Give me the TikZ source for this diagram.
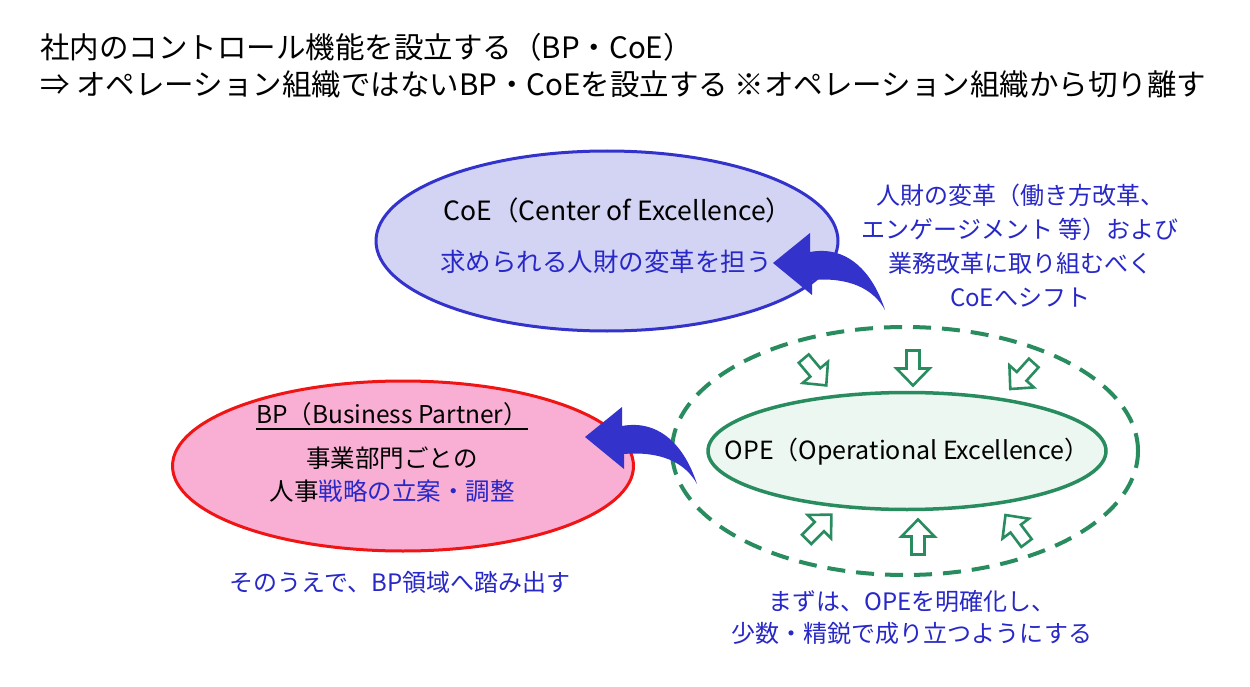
\documentclass[tikz,border=0pt]{standalone}
\usepackage{fontspec}
\setmainfont{Noto Sans CJK JP}
\usetikzlibrary{shapes.geometric}
\definecolor{coefill}{RGB}{211,211,243}
\definecolor{coeline}{RGB}{51,51,204}
\definecolor{bpfill}{RGB}{249,175,212}
\definecolor{bpline}{RGB}{240,20,20}
\definecolor{opegreen}{RGB}{40,140,95}
\definecolor{opefill}{RGB}{237,247,241}
\definecolor{txtblue}{RGB}{40,40,200}
\definecolor{arrowblue}{RGB}{51,51,204}
\begin{document}
\begin{tikzpicture}[x=1pt,y=-1pt,
  txt/.style={inner sep=0pt, font=\fontsize{24}{34}\selectfont, align=center},
  bigtxt/.style={txt, font=\fontsize{26.5}{34}\selectfont},
  bluetxt/.style={txt, text=txtblue},
  titletxt/.style={inner sep=0pt, anchor=west, font=\fontsize{29.5}{29.5}\selectfont},
  hollow/.pic={\draw[opegreen, line width=2.6pt, line join=miter, fill=white]
     (-17.5,-6.5) -- (0.5,-6.5) -- (0.5,-16.5) -- (17.5,0) -- (0.5,16.5) -- (0.5,6.5) -- (-17.5,6.5) -- cycle;},
  curvearrow/.pic={\fill[arrowblue] (0,0) -- (37,-30) -- (37,-11)
     .. controls (75,-18) and (100,10) .. (112,47)
     .. controls (100,25) and (75,14) .. (39,17) -- (39,32) -- cycle;}
]
\useasboundingbox[fill=white] (0,0) rectangle (1250,687);

% title
\node[titletxt] (t1) at (40,47) {社内のコントロール機能を設立する（BP・CoE）};
\node[titletxt] (t2) at (40,84) {⇒ オペレーション組織ではないBP・CoEを設立する ※オペレーション組織から切り離す};

% ellipses
\node[ellipse, draw=coeline, line width=3pt, fill=coefill, minimum width=462pt, minimum height=180pt, inner sep=0pt] (coe) at (607,241) {};
\node[ellipse, draw=bpline, line width=3pt, fill=bpfill, minimum width=461pt, minimum height=170pt, inner sep=0pt] (bp) at (403,466) {};
\node[ellipse, draw=opegreen, line width=4pt, dash pattern=on 18pt off 11pt, minimum width=466pt, minimum height=248pt, inner sep=0pt] (opeout) at (905,451) {};
\node[ellipse, draw=opegreen, line width=3.5pt, fill=opefill, minimum width=398pt, minimum height=117pt, inner sep=0pt] (ope) at (907,451) {};

% ellipse texts
\node[bigtxt] (coet) at (618,210) {CoE（Center of Excellence）};
\node[bluetxt, font=\fontsize{25.5}{34}\selectfont] (coes) at (606,262) {求められる人財の変革を担う};
\node[txt, font=\fontsize{24.5}{34}\selectfont] (bpt) at (392,414) {BP（Business Partner）};
\draw[line width=1.5pt] ([yshift=-3pt]bpt.south west) -- ([yshift=-3pt]bpt.south east);
\node[txt, font=\fontsize{24.5}{33}\selectfont] (bps) at (392,475) {事業部門ごとの\\人事\textcolor{txtblue}{戦略の立案・調整}};
\node[txt, font=\fontsize{25}{34}\selectfont] (opet) at (907,452) {OPE（Operational Excellence）};

% side texts
\node[bluetxt] (rt) at (1020,246) {人財の変革（働き方改革、\\エンゲージメント 等）および\\業務改革に取り組むべく\\CoEへシフト};
\node[bluetxt] (bl) at (400,582) {そのうえで、BP領域へ踏み出す};
\node[bluetxt, font=\fontsize{24}{32}\selectfont] (br) at (912,617) {まずは、OPEを明確化し、\\少数・精鋭で成り立つようにする};

% hollow arrows
\pic[rotate=-50] at (815,372) {hollow};
\pic[rotate=-90] at (913,368) {hollow};
\pic[rotate=-132] at (1022,376) {hollow};
\pic[rotate=45] at (819,527) {hollow};
\pic[rotate=90] at (918,537) {hollow};
\pic[rotate=127] at (1016,529) {hollow};

% curved arrows
\pic at (773,263) {curvearrow};
\pic at (585,437) {curvearrow};
\end{tikzpicture}
\end{document}
